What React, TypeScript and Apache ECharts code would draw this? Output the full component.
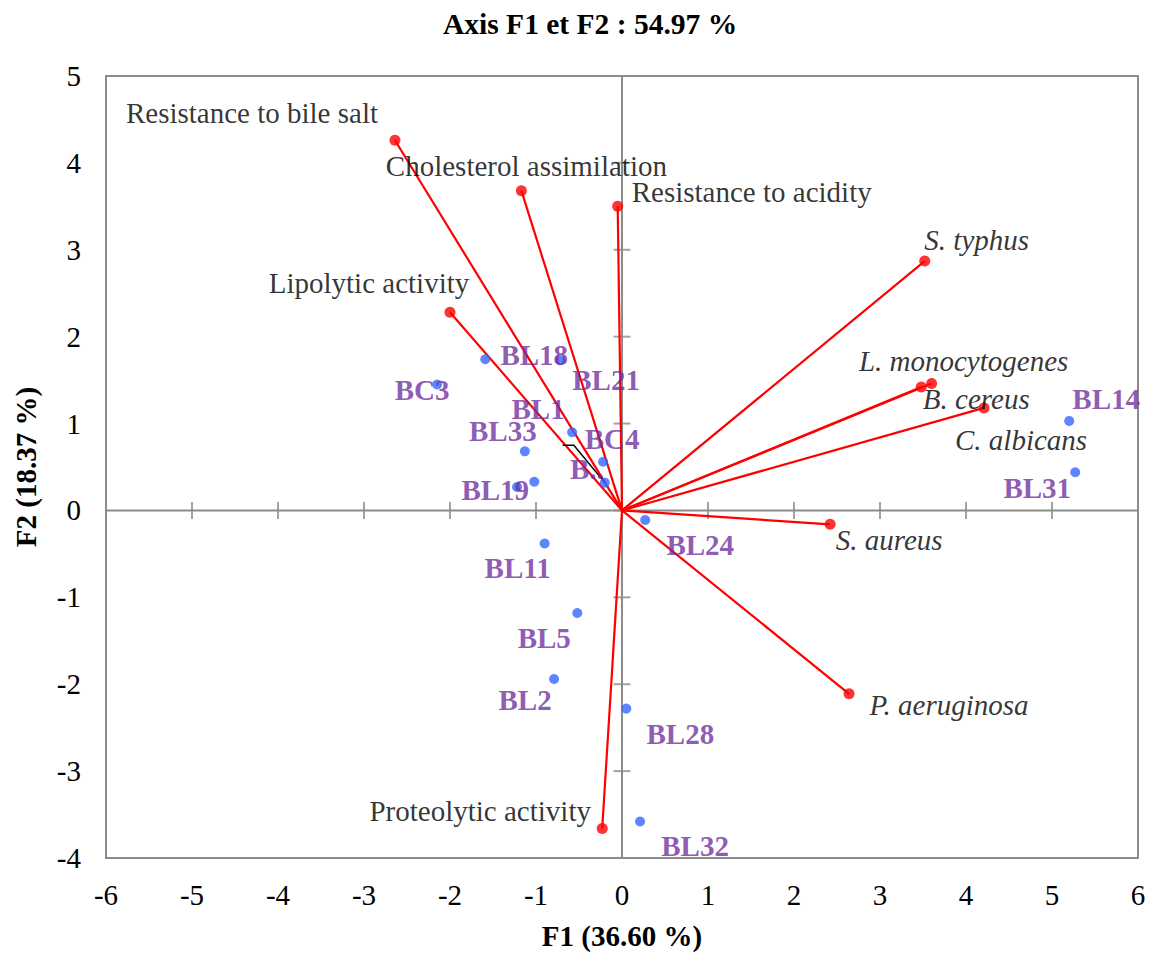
import React, { useEffect, useRef } from "react";
import * as echarts from "echarts";

const FONT = "'Liberation Serif', 'Times New Roman', Times, serif";
const GRAY = "#8c8c8c";
const RED = "#ff0000";
const BLUE = "#3366ff";
const PURPLE = "#7030a0";

const xTicks = [-6, -5, -4, -3, -2, -1, 0, 1, 2, 3, 4, 5, 6];
const yTicks = [-4, -3, -2, -1, 0, 1, 2, 3, 4, 5];

// Active variables (red vectors)
const varNames = [
  "Resistance to bile salt",
  "Cholesterol assimilation",
  "Resistance to acidity",
  "S. typhus",
  "Lipolytic activity",
  "L. monocytogenes",
  "B. cereus",
  "C. albicans",
  "S. aureus",
  "P. aeruginosa",
  "Proteolytic activity",
];
const varX = [-2.64, -1.17, -0.05, 3.52, -2.0, 3.6, 3.48, 4.21, 2.42, 2.64, -0.23];
const varY = [4.26, 3.68, 3.5, 2.87, 2.28, 1.46, 1.42, 1.18, -0.16, -2.11, -3.66];

// Observations (blue points)
const obsNames = [
  "BL18", "BL21", "BC3", "BL1", "BL33", "BC4", "B..", "BL19", "", "BL24",
  "BL11", "BL5", "BL2", "BL28", "BL32", "BL14", "BL31",
];
const obsX = [-1.59, -0.72, -2.15, -0.58, -1.13, -0.22, -0.2, -1.02, -1.22, 0.27, -0.9, -0.52, -0.79, 0.05, 0.21, 5.2, 5.27];
const obsY = [1.74, 1.73, 1.45, 0.9, 0.68, 0.56, 0.32, 0.33, 0.27, -0.11, -0.38, -1.18, -1.94, -2.28, -3.58, 1.03, 0.44];

// Leader line of a hidden label
const leaderX = [-0.69, -0.56, -0.2];
const leaderY = [0.75, 0.75, 0.32];

// Layout-only: label offsets in pixels and font style
const varItalic = [false, false, false, true, false, true, true, true, true, true, false];
const varLabelOffsets = [
  [-143, -27], [5, -25], [134, -14], [52, -21], [-81, -29], [32, -23],
  [55, 12], [37, 32], [59, 16], [100, 11], [-122, -17],
];
const obsLabelOffsets = [
  [49, -4], [46, 20], [-15, 6], [-34, -23], [-22, -20], [9, -23], [-18, -14],
  [-39, 8], [0, 0], [55, 25], [-27, 25], [-33, 25], [-29, 21], [54, 25],
  [55, 24], [37, -22], [-38, 16],
];

export default function App() {
  const ref = useRef<HTMLDivElement>(null);

  useEffect(() => {
    document.body.style.margin = "0";
    if (!ref.current) return;
    const chart = echarts.init(ref.current, null, { renderer: "svg" });

    const xMin = xTicks[0];
    const xMax = xTicks[xTicks.length - 1];
    const yMin = yTicks[0];
    const yMax = yTicks[yTicks.length - 1];

    const vectorSeries = varNames.map((n, i) => ({
      type: "line",
      name: n,
      data: [
        [0, 0],
        [varX[i], varY[i]],
      ],
      symbol: "none",
      silent: true,
      lineStyle: { color: RED, width: 2.2 },
      z: 4,
    }));

    const option: any = {
      animation: false,
      title: {
        text: "Axis F1 et F2 : 54.97 %",
        left: 438,
        top: 4,
        textStyle: { fontFamily: FONT, fontWeight: "bold", fontSize: 29.5, color: "#000" },
      },
      grid: {
        left: 106,
        right: 12,
        top: 76,
        bottom: 92,
        show: true,
        borderColor: GRAY,
        borderWidth: 2,
      },
      xAxis: {
        type: "value",
        min: xMin,
        max: xMax,
        interval: 1,
        axisLine: { show: false },
        axisTick: { show: false },
        splitLine: { show: false },
        axisLabel: { fontFamily: FONT, fontSize: 29, color: "#000", margin: 22 },
        name: "F1 (36.60 %)",
        nameLocation: "middle",
        nameGap: 63,
        nameTextStyle: { fontFamily: FONT, fontSize: 29, fontWeight: "bold", color: "#000" },
      },
      yAxis: {
        type: "value",
        min: yMin,
        max: yMax,
        interval: 1,
        axisLine: { show: false },
        axisTick: { show: false },
        splitLine: { show: false },
        axisLabel: { fontFamily: FONT, fontSize: 29, color: "#000", margin: 25 },
        name: "F2 (18.37 %)",
        nameLocation: "middle",
        nameGap: 66,
        nameTextStyle: { fontFamily: FONT, fontSize: 29, fontWeight: "bold", color: "#000" },
      },
      series: [
        {
          type: "line",
          data: [
            [xMin, 0],
            [xMax, 0],
          ],
          symbol: "none",
          silent: true,
          lineStyle: { color: GRAY, width: 2 },
          z: 1,
        },
        {
          type: "line",
          data: [
            [0, yMin],
            [0, yMax],
          ],
          symbol: "none",
          silent: true,
          lineStyle: { color: GRAY, width: 2 },
          z: 1,
        },
        {
          type: "scatter",
          data: xTicks.map((t) => [t, 0]),
          symbol: "rect",
          symbolSize: [2, 17],
          silent: true,
          itemStyle: { color: GRAY },
          z: 1,
        },
        {
          type: "scatter",
          data: yTicks.map((t) => [0, t]),
          symbol: "rect",
          symbolSize: [17, 2],
          silent: true,
          itemStyle: { color: GRAY },
          z: 1,
        },
        ...vectorSeries,
        {
          type: "line",
          data: leaderX.map((x, i) => [x, leaderY[i]]),
          symbol: "none",
          silent: true,
          lineStyle: { color: "#000", width: 1.5 },
          z: 4,
        },
        {
          type: "scatter",
          symbolSize: 11,
          itemStyle: { color: RED },
          z: 5,
          data: varNames.map((n, i) => ({
            name: n,
            value: [varX[i], varY[i]],
            label: {
              show: true,
              position: "inside",
              offset: varLabelOffsets[i],
              formatter: n,
              fontStyle: varItalic[i] ? "italic" : "normal",
            },
          })),
          label: {
            fontFamily: FONT,
            fontSize: 29,
            color: "#000",
            align: "center",
            verticalAlign: "middle",
            textBorderWidth: 0,
          },
        },
        {
          type: "scatter",
          symbolSize: 10,
          itemStyle: { color: BLUE },
          z: 6,
          data: obsNames.map((n, i) => ({
            name: n,
            value: [obsX[i], obsY[i]],
            label: {
              show: n !== "",
              position: "inside",
              offset: obsLabelOffsets[i],
              formatter: n,
            },
          })),
          label: {
            fontFamily: FONT,
            fontSize: 29,
            fontWeight: "bold",
            color: PURPLE,
            align: "center",
            verticalAlign: "middle",
            textBorderWidth: 0,
          },
        },
      ],
    };

    chart.setOption(option);
    return () => chart.dispose();
  }, []);

  return <div ref={ref} style={{ width: 1150, height: 955 }} />;
}
